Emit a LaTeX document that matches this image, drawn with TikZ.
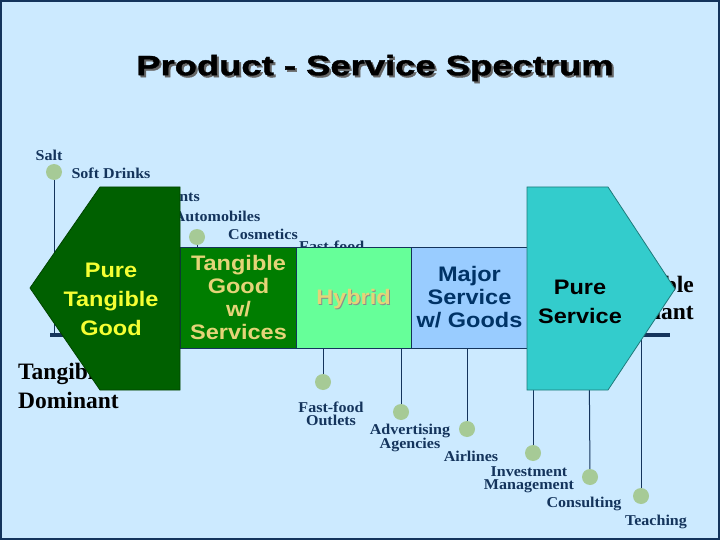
\documentclass[tikz,border=0pt]{standalone}
\usepackage{fontspec}
\setmainfont{Liberation Serif}
\newfontfamily\titlefont[FakeStretch=1.3,BoldFeatures={FakeBold=1.5}]{Liberation Sans}
\newfontfamily\boxfont[FakeStretch=1.12]{Liberation Sans}
\newfontfamily\lblfont[FakeStretch=1.07]{Liberation Serif}
\definecolor{bg}{RGB}{204,234,255}
\definecolor{navy}{RGB}{20,52,92}
\definecolor{dotc}{RGB}{166,202,150}
\definecolor{hexg}{RGB}{0,96,0}
\definecolor{tgg}{RGB}{0,125,0}
\definecolor{hyb}{RGB}{102,255,153}
\definecolor{maj}{RGB}{153,204,255}
\definecolor{teal}{RGB}{51,204,204}
\definecolor{yel}{RGB}{245,255,51}
\definecolor{khaki}{RGB}{228,212,120}
\definecolor{majtxt}{RGB}{0,51,102}
\tikzset{
  lbl/.style={font={\lblfont\bfseries\fontsize{15}{13}\selectfont}, text=navy, align=center, inner sep=0pt},
  dom/.style={font={\bfseries\fontsize{23.5}{28}\selectfont}, text=black, inner sep=0pt},
  dot/.style={circle, fill=dotc, minimum size=16pt, inner sep=0pt},
  stem/.style={draw=navy, line width=1pt},
  box/.style={draw=navy, line width=1pt, minimum width=116pt, minimum height=101pt, inner sep=0pt, align=center,
    font={\boxfont\bfseries\fontsize{21}{23}\selectfont}},
  btxt/.style={align=center, inner sep=0pt, font={\boxfont\bfseries\fontsize{21}{23}\selectfont}},
  titlest/.style={inner sep=0pt, font={\titlefont\bfseries\fontsize{28}{30}\selectfont}}
}
\begin{document}
\begin{tikzpicture}[x=1pt,y=-1pt]
\useasboundingbox (0,0) rectangle (720,540);
\fill[bg] (0,0) rectangle (720,540);
\draw[navy, line width=2pt] (1,1) rectangle (719,539);
% title
\node[titlest, text=black!60] at (377,70) {Product - Service Spectrum};
\node[titlest, text=black] (title) at (375,68) {Product - Service Spectrum};
% axis
\coordinate (axL) at (50,335);
\coordinate (axR) at (670,335);
\draw[navy, line width=4pt] (axL) -- (axR);
% stem coordinates on axis
\coordinate (aSalt) at (54,335);
\coordinate (aCos) at (197,335);
\coordinate (aFfo) at (323,335);
\coordinate (aAdv) at (401,335);
\coordinate (aAir) at (467,335);
\coordinate (aInv) at (533,335);
\coordinate (aCon) at (589,335);
\coordinate (aTea) at (641,335);
% dots
\node[dot] (dSalt) at (54,172) {};
\node[dot] (dCos) at (197,237) {};
\node[dot] (dFfo) at (323,382) {};
\node[dot] (dAdv) at (401,412) {};
\node[dot] (dAir) at (467,429) {};
\node[dot] (dInv) at (533,453) {};
\node[dot] (dCon) at (590,477) {};
\node[dot] (dTea) at (641,496) {};
% stems
\draw[stem] (dSalt) -- (aSalt);
\draw[stem] (dCos) -- (aCos);
\draw[stem] (aFfo) -- (dFfo);
\draw[stem] (aAdv) -- (dAdv);
\draw[stem] (aAir) -- (dAir);
\draw[stem] (aInv) -- (dInv);
\draw[stem] (aCon) -- (dCon);
\draw[stem] (aTea) -- (dTea);
% top labels
\node[lbl] (lSalt) at (49,155) {Salt};
\node[lbl] (lSoft) at (111,173) {Soft Drinks};
\node[lbl, anchor=east] (lDet) at (200,198) {Detergents};
\node[lbl] (lAuto) at (217,216) {Automobiles};
\node[lbl] (lCos) at (263,234) {Cosmetics};
\node[lbl, anchor=west] (lFfr) at (299,246) {Fast-food};
% bottom labels
\node[lbl] (lFfo) at (331,414) {Fast-food\\Outlets};
\node[lbl] (lAdv) at (410,438) {Advertising\\Agencies};
\node[lbl] (lAir) at (471,456) {Airlines};
\node[lbl] (lInv) at (529,480) {Investment\\Management};
\node[lbl] (lCon) at (584,504) {Consulting};
\node[lbl] (lTea) at (656,522) {Teaching};
% dominant labels
\node[dom, align=left, anchor=west] (tdom) at (18,386) {Tangible\\[1pt]Dominant};
\node[dom, align=right, anchor=east] (idom) at (694,298) {Intangible\\[-1pt]Dominant};
% boxes
\node[box, fill=tgg, text=khaki] (tgs) at (238.5,297.5) {Tangible\\Good\\w/\\Services};
\node[box, fill=hyb] (hyb) at (354.5,297.5) {};
\node[btxt, text=black!45] at (354.5,300.5) {Hybrid};
\node[btxt, text=khaki] (hybt) at (353.5,299.5) {Hybrid};
\node[box, fill=maj, text=majtxt] (maj) at (469.5,297.5) {Major\\Service\\w/ Goods};
% left hexagon
\filldraw[fill=hexg, draw=hexg!70!black, line width=0.8pt]
  (100,187) -- (180,187) -- (180,390) -- (100,390) -- (30,288) -- cycle;
\node[btxt, text=yel, font={\boxfont\bfseries\fontsize{21}{29}\selectfont}] (ptg) at (111,299) {Pure\\Tangible\\Good};
% right pentagon
\filldraw[fill=teal, draw=teal!60!black, line width=0.8pt]
  (527,187) -- (608,187) -- (675,289) -- (608,390) -- (527,390) -- cycle;
\node[btxt, text=black, font={\boxfont\bfseries\fontsize{21}{29}\selectfont}] (ps) at (580,302) {Pure\\Service};
\end{tikzpicture}
\end{document}
